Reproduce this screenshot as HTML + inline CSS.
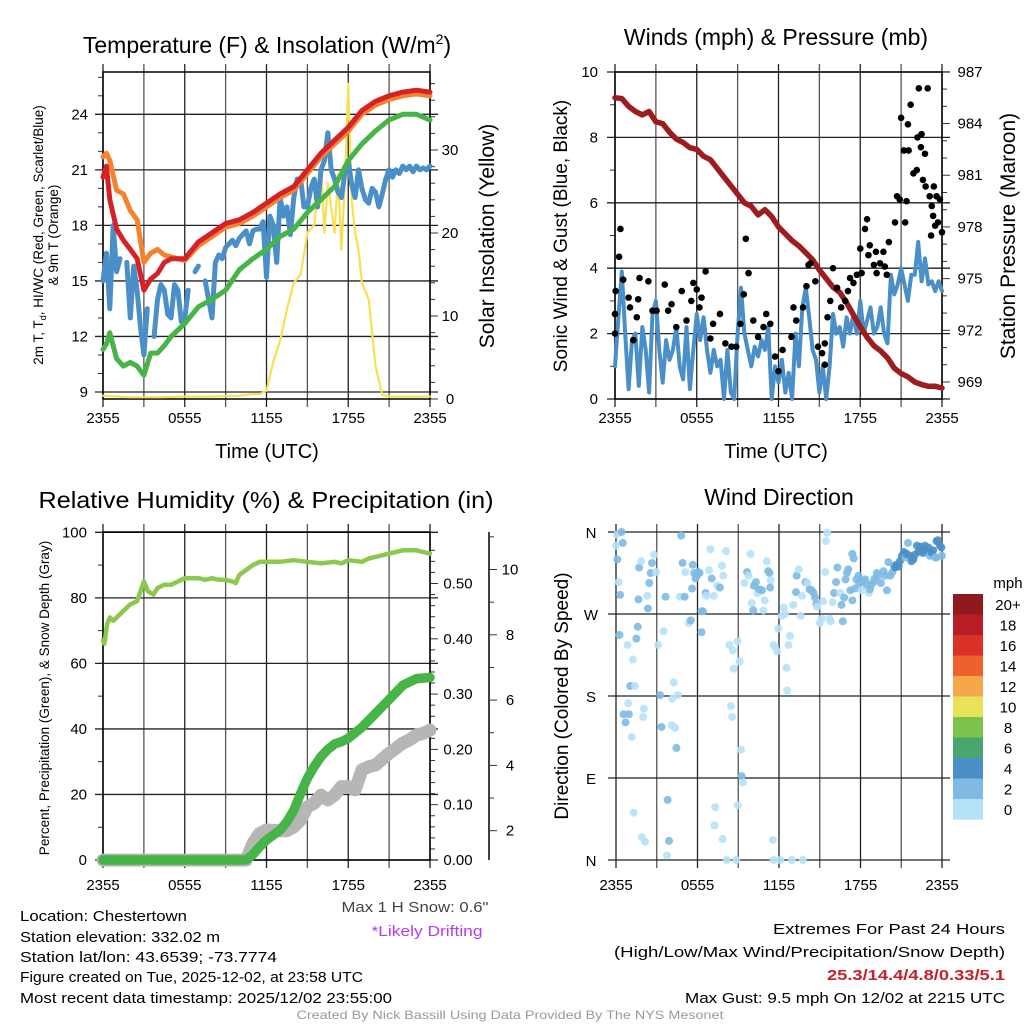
<!DOCTYPE html>
<html><head><meta charset="utf-8"><title>Chestertown Mesonet</title>
<style>
html,body{margin:0;padding:0;background:#fff;}
svg{display:block;font-family:"Liberation Sans",Arial,sans-serif;}
</style></head>
<body>
<svg id="chart" width="1024" height="1024" viewBox="0 0 1024 1024" xmlns="http://www.w3.org/2000/svg"></svg>
<script>
// ---------- DATA ----------
// Panel 1: temperature (F) & insolation
const hourTimes = [0,0.25,0.5,1,1.5,2,2.5,3,3.5,4,4.5,5,6,7,8,9,10,11,12,13,14,15,16,17,18,19,20,21,22,23,24];
const tempRed   = [20.6,21.2,19.4,17.8,17.2,16.7,16.2,14.5,15.1,15.4,16.0,16.2,16.2,17.1,17.6,18.1,18.3,18.7,19.2,19.7,20.1,21.0,21.9,22.6,23.3,24.2,24.7,25.0,25.2,25.3,25.2];
const temp9m    = [21.7,21.9,21.5,19.9,19.7,18.8,18.3,16.0,16.5,16.7,16.4,16.3,16.1,16.9,17.4,17.9,18.1,18.5,19.0,19.5,19.9,20.8,21.7,22.4,23.1,24.0,24.5,24.8,25.0,25.1,25.0];
const dewGreen  = [11.3,11.6,12.2,10.8,10.4,10.6,10.4,9.9,11.1,11.1,11.5,12.0,12.7,13.6,14.0,14.5,15.6,16.2,16.7,17.4,17.8,18.7,19.4,20.1,21.5,22.4,23.1,23.7,24.0,24.0,23.7];
const chillTimes = [0,0.25,0.5,0.75,1,1.25,1.5,1.75,2,2.25,2.5,2.75,3,3.25,3.5,3.75,4,4.25,4.5,4.75,5,5.25,5.5,5.75,6,6.25,6.5,6.75,7,7.25,7.5,7.75,8,8.25,8.5,8.75,9,9.25,9.5,9.75,10,10.25,10.5,10.75,11,11.25,11.5,11.75,12,12.25,12.5,12.75,13,13.25,13.5,13.75,14,14.25,14.5,14.75,15,15.25,15.5,15.75,16,16.25,16.5,16.75,17,17.25,17.5,17.75,18,18.25,18.5,18.75,19,19.25,19.5,19.75,20,20.25,20.5,20.75,21,21.25,21.5,21.75,22,22.25,22.5,22.75,23,23.25,23.5,23.75,24];
const chillBlue = [15.0,16.5,13.5,18.0,15.5,16.2,null,16.0,13.0,15.8,14.5,12.5,11.0,13.5,null,12.0,14.0,14.8,14.5,13.2,13.0,14.8,14.5,12.8,13.0,14.5,null,15.5,15.8,null,15.0,14.0,13.0,16.0,16.4,16.2,16.8,17.0,17.2,16.9,17.3,17.5,17.7,17.0,17.7,17.8,17.8,18.2,15.2,18.5,18.0,16.0,19.5,18.5,19.0,17.5,19.5,20.5,20.5,19.0,19.0,20.0,20.5,19.0,21.0,21.5,23.0,21.0,20.5,19.8,19.5,20.8,21.5,20.2,19.5,21.0,20.0,19.4,19.2,20.0,19.8,19.0,19.7,20.5,21.0,20.6,21.0,20.8,21.2,21.0,21.2,20.9,21.2,21.0,21.1,21.0,21.2];
const solarTimes = [0,2,4,6,8,10,11,11.5,12,12.5,13,13.5,14,14.5,15,15.5,16,16.25,16.5,17,17.25,17.5,17.75,18,18.25,18.5,18.75,19,19.5,20,20.5,21,22,24];
const solarVals  = [0.4,0.2,0.2,0.3,0.3,0.4,0.6,0.6,1.0,4.5,7.0,10.8,14.0,15.0,20.0,21.0,28.0,20.0,26.0,20.0,27.0,18.0,26.0,38.0,24.0,20.0,18.0,14.0,12.0,4.0,0.5,0.3,0.3,0.3];

// Panel 2: winds & pressure
const windTimes = [];
for (let i = 0; i <= 96; i++) windTimes.push(i * 0.25);
const windSpeed = [1.0,2.5,3.9,2.0,0.3,1.8,2.0,0.4,2.2,1.5,0.2,2.6,3.0,
 1.5,0.5,1.8,1.2,1.5,2.2,1.0,0.6,2.2,0.3,1.5,2.6,
 1.8,2.5,1.5,0.8,1.5,1.0,1.2,0.0,1.5,0.2,0.0,2.0,
 3.4,2.0,1.5,1.0,1.6,1.3,1.8,1.5,2.2,0.0,1.0,0.5,
 1.2,0.2,0.8,0.0,2.0,1.0,2.8,3.4,2.5,1.5,1.2,0.2,
 1.0,0.0,1.0,2.6,2.0,2.2,1.6,2.5,2.0,2.6,2.0,3.0,
 2.0,2.4,2.8,2.0,2.2,2.8,2.0,1.7,3.8,3.2,3.5,4.0,
 3.5,3.0,3.8,3.8,4.8,3.6,4.3,3.5,3.6,3.3,3.6,3.3];
const gustObs = [[0,2.0],[0,2.6],[0.05,3.3],[0.3,4.35],[0.4,5.2],[0.6,3.65],[1.0,3.1],[1.1,2.8],[1.35,1.8],[1.6,2.5],[1.7,3.05],[1.8,3.7],[2.45,3.6],[2.75,2.7],[3.05,2.7],[3.65,3.5],[3.9,2.7],[4.15,2.9],[4.5,2.2],[4.9,3.3],[5.25,2.4],[5.6,3.0],[5.75,3.55],[6.0,3.35],[6.2,2.8],[6.35,3.1],[6.65,3.9],[7.0,1.85],[7.2,2.3],[7.7,2.6],[8.1,1.7],[8.55,1.6],[8.9,1.6],[9.2,2.3],[9.45,3.2],[9.6,4.9],[9.8,3.85],[10.15,2.4],[10.5,1.9],[10.9,2.2],[11.1,2.6],[11.4,2.3],[11.75,1.3],[12.0,0.85],[12.3,1.5],[12.95,1.9],[13.1,2.8],[13.3,2.4],[13.8,2.8],[14.05,3.45],[14.2,4.1],[14.35,4.15],[14.7,3.6],[14.9,1.6],[15.2,1.4],[15.4,1.05],[15.4,1.7],[15.6,2.5],[15.8,3.0],[16.0,4.0],[16.3,3.4],[16.6,2.8],[16.9,3.0],[17.1,3.3],[17.25,3.7],[17.5,3.55],[17.75,3.8],[18.0,4.6],[18.1,3.85],[18.35,5.2],[18.5,5.5],[18.6,4.4],[18.7,4.7],[19.0,4.1],[19.15,4.5],[19.2,3.85],[19.45,4.15],[19.7,4.5],[19.8,4.05],[19.95,3.8],[20.1,4.8],[20.55,5.4],[20.7,6.2],[20.9,6.1],[21.0,8.6],[21.2,7.6],[21.3,5.4],[21.4,6.05],[21.5,8.4],[21.55,7.6],[21.7,9.0],[21.9,6.9],[22.15,7.0],[22.2,8.0],[22.3,9.5],[22.45,7.7],[22.5,8.1],[22.6,6.7],[22.75,7.5],[22.8,6.5],[22.95,9.5],[23.1,6.2],[23.2,5.0],[23.25,5.9],[23.35,5.6],[23.4,6.5],[23.5,5.3],[23.6,6.2],[23.7,5.4],[23.85,6.1],[24.0,5.1]];
const presTimes = [0,0.5,1,1.5,2,2.5,3,3.5,4,4.5,5,5.5,6,6.5,7,7.5,8,8.5,9,9.5,10,10.5,11,11.5,12,12.5,13,13.5,14,14.5,15,15.5,16,16.5,17,17.5,18,18.5,19,19.5,20,20.5,21,21.5,22,22.5,23,23.5,24];
const presVals  = [985.5,985.45,985.0,984.7,984.5,984.7,984.1,984.0,983.5,983.1,982.9,982.6,982.5,982.1,981.9,981.4,980.9,980.4,979.9,979.4,979.2,978.7,979.0,978.6,978.0,977.6,977.2,976.9,976.5,976.1,975.5,975.0,974.5,974.2,973.6,972.9,972.2,971.6,971.1,970.8,970.4,969.8,969.5,969.3,969.0,968.85,968.75,968.75,968.65];

// Panel 3: wind direction [hour, degrees, speed mph]
const dirObs = [[0,345,1],[0.07,357,1],[0.4,360,3],[0.5,348,3],[0.1,330,3],[0.2,305,1],[0.3,291,3],[0.25,247,3],[0.85,236,1],[1.25,220,1],[1.05,191,3],[1.4,191,1],[0.9,172,1],[0.55,160,3],[0.95,160,3],[0.7,151,3],[1.15,135,1],[1.3,52,1],[1.9,25,1],[2.15,20,1],[1.6,256,3],[1.5,243,3],[1.65,286,3],[1.7,321,3],[1.85,328,1],[2.3,290,1],[2.35,276,3],[2.45,304,3],[2.55,315,3],[2.65,326,3],[2.8,335,1],[2.95,316,1],[2.05,166,1],[2.0,157,1],[3.1,236,1],[3.5,251,1],[3.65,289,3],[3.25,181,3],[3.35,146,3],[3.8,66,3],[3.9,21,3],[3.75,5,1],[4.25,195,1],[4.15,177,1],[4.55,181,1],[4.1,148,1],[4.35,145,1],[4.45,123,3],[4.7,289,1],[4.8,356,3],[4.9,326,3],[5.05,289,3],[5.1,316,1],[5.35,260,1],[5.5,263,3],[5.6,298,3],[5.65,324,3],[5.75,315,3],[5.85,309,3],[5.95,312,3],[6.05,316,3],[6.15,315,3],[6.3,273,3],[6.4,273,3],[6.3,250,3],[6.6,293,3],[6.65,290,1],[6.85,318,1],[6.95,341,1],[7.05,309,3],[7.2,290,1],[7.3,58,1],[7.25,38,1],[7.45,301,1],[7.65,299,3],[7.8,323,1],[7.9,312,1],[8.1,339,1],[7.85,23,1],[8.15,0,1],[8.35,236,1],[8.45,169,1],[8.55,157,1],[8.6,230,1],[8.65,210,1],[8.85,0,1],[8.95,60,1],[8.95,240,1],[9.1,218,1],[9.2,121,1],[9.25,92,3],[9.35,85,1],[9.45,304,1],[9.65,316,3],[9.75,312,1],[9.9,336,1],[10.0,282,1],[10.1,274,3],[10.15,301,3],[10.3,305,3],[10.4,293,1],[10.55,297,3],[10.75,296,3],[10.85,274,1],[10.95,285,1],[11.1,328,1],[11.2,317,3],[11.3,315,3],[11.4,307,1],[11.35,299,3],[11.6,236,1],[11.7,234,1],[11.85,229,1],[11.55,22,1],[11.6,0,1],[11.95,254,1],[12.1,0,1],[12.2,268,1],[12.35,277,1],[12.45,270,1],[12.55,211,1],[12.6,186,1],[12.7,236,1],[12.8,246,1],[12.95,0,1],[13.05,280,1],[13.25,294,3],[13.3,312,3],[13.45,319,1],[13.6,268,1],[13.7,290,1],[13.75,0,1],[13.95,305,3],[14.1,304,1],[14.25,297,3],[14.4,296,3],[14.55,293,3],[14.65,288,3],[14.75,281,3],[14.8,278,1],[15.0,260,1],[15.15,265,1],[15.25,284,1],[15.4,316,1],[15.45,350,1],[15.55,359,1],[15.7,265,1],[15.8,262,1],[15.95,283,1],[16.05,293,3],[16.2,305,3],[16.3,321,3],[16.5,293,1],[16.6,280,3],[16.7,262,3],[16.8,288,3],[16.9,308,3],[17.0,315,3],[17.1,319,3],[17.25,296,3],[17.4,285,3],[17.4,336,3],[17.5,331,3],[17.6,298,3],[17.7,308,3],[17.85,312,3],[17.9,304,3],[18.1,296,1],[18.2,306,3],[18.35,308,3],[18.45,302,3],[18.6,293,1],[18.7,297,3],[18.8,302,3],[18.95,305,3],[19.05,309,3],[19.2,315,3],[19.3,312,3],[19.5,304,3],[19.7,317,3],[19.8,312,3],[19.95,296,3],[20.05,327,3],[20.2,312,3],[20.35,316,3],[20.45,323,3],[20.55,321,5],[20.65,324,5],[20.8,322,5],[20.9,328,5],[21.05,334,5],[21.2,338,5],[21.3,332,3],[21.4,336,5],[21.5,348,3],[21.65,334,5],[21.75,328,5],[21.9,330,5],[22.0,335,5],[22.15,345,5],[22.25,338,5],[22.4,344,5],[22.5,340,5],[22.6,337,5],[22.75,345,5],[22.85,340,5],[23.0,343,5],[23.1,334,3],[23.25,337,5],[23.35,340,5],[23.5,332,3],[23.6,350,5],[23.7,351,5],[23.85,345,5],[23.95,343,5],[24.0,334,3],[23.6,332,3]];
const cbarLabels = ['20+','18','16','14','12','10','8','6','4','2','0'];
const cbarColors = ['#8f1a1c','#b81c24','#da3129','#ee612d','#f5a849','#e7e15b','#7dc24b','#4aa66f','#4a8fc6','#7ebae3','#b6e2f8'];

// Panel 4: RH, precip, snow depth
const rhTimes = [0,0.1,0.3,0.5,0.75,1,1.5,2,2.5,3,3.3,3.7,4,4.5,5,5.5,6,7,7.5,8,8.5,9,9.5,9.75,10,10.5,11,11.5,12,13,14,15,16,17,17.5,18,19,19.5,20,21,22,23,23.5,24];
const rhVals  = [67,66,72,74,73,74,76,78,79,85,82,81,83,84,84,85,86,86,85.5,86,85.5,85.5,85,84.5,87,88.5,90,91,91,91,91.5,91,90.5,91,90.5,91.5,91,92,92.5,93.5,94.5,94.5,94,93.5];
const precipTimes = [0,10.5,11,11.5,12,13,13.5,14,14.5,15,15.5,16,16.5,17,17.5,18,19,20,21,22,23,24];
const precipVals  = [0,0,0.01,0.024,0.036,0.054,0.069,0.09,0.12,0.148,0.169,0.187,0.2,0.21,0.214,0.22,0.24,0.265,0.29,0.316,0.328,0.33];
const snowTimes = [0,10.5,11,11.5,12,13,13.5,14,14.5,15,15.5,16,16.5,17,17.5,18,18.5,19,19.5,20,21,22,22.5,23,23.5,24];
const snowVals  = [1.1,1.1,1.61,1.92,2.02,2.0,2.0,2.12,2.33,2.73,2.84,3.09,2.94,3.09,3.35,3.35,3.25,3.86,3.96,4.01,4.37,4.68,4.78,4.93,4.98,5.08];

const timeTickLabels = ['2355','0555','1155','1755','2355'];

// ---------- HELPERS ----------
const NS = 'http://www.w3.org/2000/svg';
const svg = document.getElementById('chart');
function mk(tag, attrs, parent) {
  const e = document.createElementNS(NS, tag);
  for (const k in attrs) e.setAttribute(k, attrs[k]);
  (parent || svg).appendChild(e);
  return e;
}
function txt(str, x, y, size, anchor, parent, fill, rot, len) {
  const e = mk('text', {x: x, y: y, 'font-size': size, 'text-anchor': anchor || 'middle', fill: fill || '#000'}, parent);
  if (rot) e.setAttribute('transform', 'rotate(' + rot + ' ' + x + ' ' + y + ')');
  if (len) { e.setAttribute('textLength', len); e.setAttribute('lengthAdjust', 'spacingAndGlyphs'); }
  e.textContent = str;
  return e;
}
function xOf(p, t) { return p.x0 + t / 24 * (p.x1 - p.x0); }
function polyline(p, times, vals, yf, color, width, parent, name) {
  let segs = [], cur = [];
  for (let i = 0; i < times.length; i++) {
    if (vals[i] === null) { if (cur.length) segs.push(cur); cur = []; continue; }
    cur.push(xOf(p, times[i]).toFixed(1) + ',' + yf(vals[i]).toFixed(1));
  }
  if (cur.length) segs.push(cur);
  const g = mk('g', {}, parent);
  
  
  segs.forEach(s => {
    const pl = mk('polyline', {points: s.join(' '), fill: 'none', stroke: color, 'stroke-width': width, 'stroke-linejoin': 'round', 'stroke-linecap': 'round'}, g);
    
    
  });
  return g;
}
function timeAxis(p, parent, labelY) {
  for (let i = 0; i <= 8; i++) {
    const x = xOf(p, i * 3);
    const l = mk('line', {x1: x, y1: p.y0 - 8, x2: x, y2: p.y1 + 8, stroke: (i % 2 ? '#555' : '#222'), 'stroke-width': 1.3}, parent);
    
    
  }
  timeTickLabels.forEach((s, i) => {
    const t = txt(s, xOf(p, i * 6), labelY, 15, 'middle', parent);
    
    
  });
}
function hGrid(p, y, parent, strong) {
  const l = mk('line', {x1: p.x0 - 8, y1: y, x2: p.x1 + 8, y2: y, stroke: strong ? '#222' : '#555', 'stroke-width': 1.3}, parent);
  
  
}
function tick(x1, y, len, parent, name) {
  const l = mk('line', {x1: x1, y1: y, x2: x1 + len, y2: y, stroke: '#333', 'stroke-width': 1}, parent);
  
  
}
function frame(p, parent) {
  const r = mk('rect', {x: p.x0, y: p.y0, width: p.x1 - p.x0, height: p.y1 - p.y0, fill: 'none', stroke: '#000', 'stroke-width': 1.5}, parent);
  
  
}

// ---------- PANEL 1 ----------
(function () {
  const p = {x0: 103, x1: 430, y0: 72, y1: 399};
  const yL = v => 392 - (v - 9) * 18.513;
  const yR = v => 399 - v * 8.3;
  const g = mk('g', {});
  
  
  const title = mk('text', {x: 267, y: 53, 'font-size': 23, 'text-anchor': 'middle'}, g);
  
  
  title.textContent = 'Temperature (F) & Insolation (W/m';
  const sup = mk('tspan', {'font-size': 14, dy: -9}, title);
  sup.textContent = '2';
  const close = mk('tspan', {dy: 9}, title);
  close.textContent = ')';
  timeAxis(p, g, 423);
  [9, 12, 15, 18, 21, 24].forEach(v => {
    hGrid(p, yL(v), g, true);
    const t = txt(String(v), 88, yL(v) + 5, 15, 'end', g);
    
    
  });
  for (let v = 9; v <= 26; v++) tick(p.x0 - 5, yL(v), 5, g, 'left-minor-tick');
  for (let v = 0; v <= 38; v += 2) tick(p.x1, yR(v), v % 10 ? 5 : 8, g, 'right-tick');
  [0, 10, 20, 30].forEach(v => {
    const t = txt(String(v), 450, yR(v) + 5, 15, 'middle', g);
    
    
  });
  frame(p, g);
  polyline(p, solarTimes, solarVals, yR, '#f7e052', 2.2, g, 'solar-insolation-line');
  polyline(p, chillTimes, chillBlue, yL, '#4a8fc8', 5, g, 'wind-chill-line');
  polyline(p, hourTimes, dewGreen, yL, '#46b447', 5, g, 'dewpoint-line');
  polyline(p, hourTimes, temp9m, yL, '#f4822f', 5, g, 'temp-9m-line');
  polyline(p, hourTimes, tempRed, yL, '#d52227', 5, g, 'temp-2m-line');
  const yl1 = txt('2m T, T', 0, 0, 13.5, 'middle', g);
  yl1.setAttribute('transform', 'translate(43,235) rotate(-90)');
  
  
  const sub = mk('tspan', {'font-size': 9, dy: 3}, yl1); sub.textContent = 'd';
  const rest = mk('tspan', {dy: -3}, yl1); rest.textContent = ', HI/WC (Red, Green, Scarlet/Blue)';
  const yl2 = txt('& 9m T (Orange)', 0, 0, 13.5, 'middle', g);
  yl2.setAttribute('transform', 'translate(58,235) rotate(-90)');
  
  
  const yr = txt('Solar Insolation (Yellow)', 0, 0, 21, 'middle', g);
  yr.setAttribute('transform', 'translate(494,236) rotate(-90)');
  
  
  const xt = txt('Time (UTC)', 267, 458, 20, 'middle', g);
  
  
})();

// ---------- PANEL 2 ----------
(function () {
  const p = {x0: 615, x1: 942, y0: 72, y1: 399};
  const yL = v => 399 - v * 32.7;
  const yR = v => 382 - (v - 969) * 17.23;
  const g = mk('g', {});
  
  
  const ti = txt('Winds (mph) & Pressure (mb)', 776, 45, 23, 'middle', g);
  
  
  timeAxis(p, g, 423);
  [0, 2, 4, 6, 8, 10].forEach(v => {
    hGrid(p, yL(v), g, true);
    const t = txt(String(v), 598, yL(v) + 5, 15, 'end', g);
    
    
  });
  for (let v = 1; v <= 9; v += 2) tick(p.x0 - 5, yL(v), 5, g, 'left-minor-tick');
  for (let v = 969; v <= 987; v++) tick(p.x1, yR(v), (v - 969) % 3 ? 5 : 8, g, 'right-tick');
  [969, 972, 975, 978, 981, 984, 987].forEach(v => {
    const t = txt(String(v), 970, yR(v) + 5, 15, 'middle', g);
    
    
  });
  frame(p, g);
  polyline(p, windTimes, windSpeed, yL, '#4a8fc8', 4, g, 'sonic-wind-line');
  polyline(p, presTimes, presVals, yR, '#9e1b1e', 5.5, g, 'pressure-line');
  const gg = mk('g', {}, g);
  
  
  gustObs.forEach(o => {
    const c = mk('circle', {cx: xOf(p, o[0]), cy: yL(o[1]), r: 3.3, fill: '#000'}, gg);
    
    
  });
  const yl = txt('Sonic Wind & Gust (Blue, Black)', 0, 0, 19, 'middle', g);
  yl.setAttribute('transform', 'translate(567,236) rotate(-90)');
  
  
  const yr = txt('Station Pressure (Maroon)', 0, 0, 21, 'middle', g);
  yr.setAttribute('transform', 'translate(1015,236) rotate(-90)');
  
  
  const xt = txt('Time (UTC)', 776, 458, 20, 'middle', g);
  
  
})();

// ---------- PANEL 3 ----------
(function () {
  const p = {x0: 616, x1: 942, y0: 532, y1: 860};
  const yD = d => 860 - d / 360 * 328;
  const g = mk('g', {});
  
  
  const ti = txt('Wind Direction', 779, 505, 23, 'middle', g);
  
  
  timeAxis(p, g, 890);
  const dl = ['N', 'E', 'S', 'W', 'N'];
  [0, 90, 180, 270, 360].forEach((d, i) => {
    hGrid(p, yD(d), g, true);
    const t = txt(dl[i], 591, yD(d) + 6, 15, 'middle', g);
    
    
  });
  const colorFor = s => s >= 4 ? cbarColors[8] : (s >= 2 ? cbarColors[9] : cbarColors[10]);
  const gp = mk('g', {}, g);
  
  
  dirObs.forEach(o => {
    const c = mk('circle', {cx: xOf(p, o[0]), cy: yD(o[1]), r: 4, fill: colorFor(o[2]), 'fill-opacity': 0.9}, gp);
    
    
  });
  const yl = txt('Direction (Colored By Speed)', 0, 0, 19, 'middle', g);
  yl.setAttribute('transform', 'translate(568,696) rotate(-90)');
  
  
  const cb = mk('g', {}, g);
  
  
  const mph = txt('mph', 1008, 588, 15, 'middle', cb);
  
  
  cbarLabels.forEach((s, i) => {
    const y = 594 + i * 20.5;
    const r = mk('rect', {x: 953, y: y, width: 30, height: 20.6, fill: cbarColors[i]}, cb);
    
    
    const t = txt(s, 1008, y + 16, 15, 'middle', cb);
    
    
  });
})();

// ---------- PANEL 4 ----------
(function () {
  const p = {x0: 103, x1: 430, y0: 532, y1: 860};
  const yL = v => 860 - v * 3.277;
  const yP = v => 860 - v * 553;
  const yS = v => 896 - v * 32.65;
  const g = mk('g', {});
  
  
  const ti = txt('Relative Humidity (%) & Precipitation (in)', 266, 508, 23, 'middle', g, '#000', 0, 455);
  
  
  timeAxis(p, g, 890);
  [0, 20, 40, 60, 80, 100].forEach(v => {
    hGrid(p, yL(v), g, true);
    const t = txt(String(v), 87, yL(v) + 5, 15, 'end', g);
    
    
  });
  for (let v = 10; v <= 90; v += 20) tick(p.x0 - 5, yL(v), 5, g, 'left-minor-tick');
  for (let k = 0; k <= 28; k++) tick(p.x1, yP(k * 0.02), k % 5 ? 5 : 8, g, 'precip-tick');
  [0, 0.1, 0.2, 0.3, 0.4, 0.5].forEach(v => {
    const t = txt(v.toFixed(2), 458, yP(v) + 5, 15, 'middle', g);
    
    
  });
  const ax = mk('line', {x1: 489, y1: 532, x2: 489, y2: 860, stroke: '#000', 'stroke-width': 1.5}, g);
  
  
  for (let s = 2; s <= 11; s++) tick(489, yS(s), s % 2 ? 5 : 8, g, 'snow-tick');
  [2, 4, 6, 8, 10].forEach(s => {
    const t = txt(String(s), 510, yS(s) + 5, 15, 'middle', g);
    
    
  });
  frame(p, g);
  polyline(p, rhTimes, rhVals, yL, '#8cc84e', 4.5, g, 'relative-humidity-line');
  polyline(p, snowTimes, snowVals, yS, '#b6b6b6', 13, g, 'snow-depth-line');
  polyline(p, precipTimes, precipVals, yP, '#46b447', 9.5, g, 'precipitation-line');
  const yl = txt('Percent, Precipitation (Green), & Snow Depth (Gray)', 0, 0, 13.5, 'middle', g);
  yl.setAttribute('transform', 'translate(49,698) rotate(-90)');
  
  
})();

// ---------- FOOTER TEXT ----------
(function () {
  const g = mk('g', {});
  
  
  const left = [['Location: Chestertown', 921, 167], ['Station elevation: 332.02 m', 942, 200], ['Station lat/lon: 43.6539; -73.7774', 962, 257], ['Figure created on Tue, 2025-12-02, at 23:58 UTC', 982, 343], ['Most recent data timestamp: 2025/12/02 23:55:00', 1003, 372]];
  left.forEach(r => {
    const t = txt(r[0], 20, r[1], 15, 'start', g, '#000', 0, r[2]);
    
    
  });
  const s1 = txt('Max 1 H Snow: 0.6"', 415, 912, 15, 'middle', g, '#444', 0, 147);
  
  
  const s2 = txt('*Likely Drifting', 427, 936, 15, 'middle', g, '#b23cf2', 0, 111);
  
  
  const right = [['Extremes For Past 24 Hours', 934, 232, '#000'], ['(High/Low/Max Wind/Precipitation/Snow Depth)', 957, 391, '#000'], ['25.3/14.4/4.8/0.33/5.1', 980, 178, '#c8202a'], ['Max Gust: 9.5 mph On 12/02 at 2215 UTC', 1003, 320, '#000']];
  right.forEach((r, i) => {
    const t = txt(r[0], 1005, r[1], 15, 'end', g, r[3], 0, r[2]);
    if (i === 2) t.setAttribute('font-weight', 'bold');
    
    
  });
  const c = txt('Created By Nick Bassill Using Data Provided By The NYS Mesonet', 510, 1019, 12, 'middle', g, '#999', 0, 427);
  
  
})();
</script>
</body></html>
